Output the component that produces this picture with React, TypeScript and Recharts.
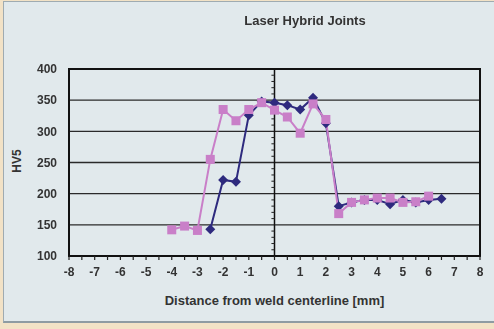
import { CartesianGrid, Line, LineChart, ReferenceArea, ReferenceLine, XAxis, YAxis } from 'recharts';

const blueX = [-2.5, -2, -1.5, -1, -0.5, 0, 0.5, 1, 1.5, 2, 2.5, 3, 3.5, 4, 4.5, 5, 5.5, 6, 6.5];
const blueHV = [143, 222, 219, 326, 348, 346, 342, 335, 354, 313, 180, 186, 190, 190, 183, 190, 186, 190, 192];

const pinkX = [-4, -3.5, -3, -2.5, -2, -1.5, -1, -0.5, 0, 0.5, 1, 1.5, 2, 2.5, 3, 3.5, 4, 4.5, 5, 5.5, 6];
const pinkHV = [142, 148, 141, 255, 335, 317, 335, 346, 334, 323, 297, 344, 319, 168, 186, 190, 193, 193, 186, 187, 196];

const xTicks = [
  -8, -7.5, -7, -6.5, -6, -5.5, -5, -4.5, -4, -3.5, -3, -2.5, -2, -1.5, -1, -0.5, 0,
  0.5, 1, 1.5, 2, 2.5, 3, 3.5, 4, 4.5, 5, 5.5, 6, 6.5, 7, 7.5, 8,
];
const yTicks = [100, 150, 200, 250, 300, 350, 400];
const centerMinorTicks = [110, 120, 130, 140, 160, 170, 180, 190, 210, 220, 230, 240, 260, 270, 280, 290, 310, 320, 330, 340, 360, 370, 380, 390];

const blueData = blueX.map((x, i) => ({ x, hv: blueHV[i] }));
const pinkData = pinkX.map((x, i) => ({ x, hv: pinkHV[i] }));

const font = '"Liberation Sans", Arial, sans-serif';
const textColor = '#333';

function XTick({ x, y, payload }: any) {
  const v = payload.value;
  const major = Number.isInteger(v);
  return (
    <g>
      <line x1={x} x2={x} y1={y - 8} y2={y - 4} stroke="#222" strokeWidth={1.2} />
      {major && (
        <text x={x} y={y + 12} textAnchor="middle" fontSize={12} fontWeight="bold" fill={textColor} fontFamily={font}>
          {v}
        </text>
      )}
    </g>
  );
}

function Diamond({ cx, cy }: any) {
  if (cx == null || cy == null) return null;
  const r = 5;
  return <path d={`M${cx},${cy - r}L${cx + r},${cy}L${cx},${cy + r}L${cx - r},${cy}Z`} fill="#2e2a7e" />;
}

function Square({ cx, cy }: any) {
  if (cx == null || cy == null) return null;
  return <rect x={cx - 4.5} y={cy - 4.5} width={9} height={9} fill="#c97fc8" />;
}

export default function App() {
  return (
    <div style={{ position: 'fixed', left: 0, top: 0, width: 494, height: 329, background: '#f2e2c6', fontFamily: font }}>
      <div
        style={{
          position: 'absolute',
          left: 3,
          top: 1,
          width: 491,
          height: 322,
          background: '#e1e9ec',
          borderLeft: '1px solid #9fabb1',
          borderTop: '1px solid #9fabb1',
          borderBottom: '2px solid #8e9ba2',
          boxSizing: 'border-box',
        }}
      />
      <div style={{ position: 'absolute', left: 0, top: 13, width: 610, textAlign: 'center', fontSize: 13, fontWeight: 'bold', color: textColor }}>
        Laser Hybrid Joints
      </div>
      <div
        style={{
          position: 'absolute',
          left: 3,
          top: 154,
          width: 28,
          textAlign: 'center',
          fontSize: 12,
          fontWeight: 'bold',
          color: textColor,
          transform: 'rotate(-90deg)',
        }}
      >
        HV5
      </div>
      <div style={{ position: 'absolute', left: 69, top: 293, width: 411, textAlign: 'center', fontSize: 13, fontWeight: 'bold', color: textColor }}>
        Distance from weld centerline [mm]
      </div>
      <div style={{ position: 'absolute', left: 0, top: 0 }}>
        <LineChart width={494} height={329} margin={{ top: 69, right: 14, bottom: 43, left: 0 }}>
          <CartesianGrid vertical={false} stroke="#2a2a2a" strokeWidth={1.3} horizontalValues={[150, 200, 250, 300, 350]} />
          <XAxis
            type="number"
            dataKey="x"
            domain={[-8, 8]}
            ticks={xTicks}
            interval={0}
            height={30}
            axisLine={false}
            tickLine={false}
            tick={<XTick />}
            allowDuplicatedCategory={false}
          />
          <YAxis
            type="number"
            domain={[100, 400]}
            ticks={yTicks}
            interval={0}
            width={69}
            axisLine={false}
            tickLine={false}
            tickMargin={6}
            tick={{ fontSize: 12, fontWeight: 'bold', fill: textColor, fontFamily: font }}
          />
          <ReferenceArea x1={-8} x2={8} y1={100} y2={400} fill="none" stroke="#111" strokeWidth={2} ifOverflow="visible" />
          <ReferenceLine x={0} stroke="#111" strokeWidth={1.5} />
          {centerMinorTicks.map((v) => (
            <ReferenceLine
              key={v}
              segment={[
                { x: -0.12, y: v },
                { x: 0, y: v },
              ]}
              stroke="#222"
              strokeWidth={1}
            />
          ))}
          <Line
            data={blueData}
            dataKey="hv"
            stroke="#2e2a7e"
            strokeWidth={2}
            dot={<Diamond />}
            isAnimationActive={false}
          />
          <Line
            data={pinkData}
            dataKey="hv"
            stroke="#c97fc8"
            strokeWidth={2}
            dot={<Square />}
            isAnimationActive={false}
          />
        </LineChart>
      </div>
    </div>
  );
}
